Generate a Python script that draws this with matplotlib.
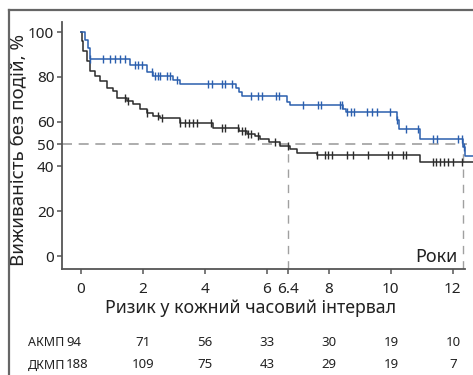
import numpy as np
import matplotlib
matplotlib.use("Agg")
import matplotlib.pyplot as plt
from matplotlib.lines import Line2D

plt.rcParams['font.family'] = ['Noto Sans', 'DejaVu Sans']

# survival curves (step after each time)
akmp_t = [0, 0.03, 0.13, 0.23, 0.29, 1.58, 2.13, 2.32, 2.97, 3.19, 5.0, 5.1, 5.2,
          6.65, 6.74, 8.45, 8.55, 10.19, 10.26, 10.94, 12.32, 12.39, 12.65]
akmp_s = [100, 100, 96.4, 92.9, 88.2, 85.3, 82, 80.4, 78.6, 76.8, 75, 73.3, 71.4,
          68.8, 67.4, 65.8, 64.3, 60.7, 56.7, 52.2, 48.7, 44.6, 44.6]
dkmp_t = [0, 0.02, 0.06, 0.19, 0.29, 0.45, 0.61, 0.84, 1.03, 1.16, 1.48, 1.68, 1.9,
          2.13, 2.32, 2.55, 3.19, 4.26, 5.1, 5.35, 5.6, 5.77, 6.06, 6.42, 6.74,
          6.97, 7.6, 10.94, 12.65]
dkmp_s = [100, 96, 91.6, 87.1, 82.7, 80.4, 78.2, 75.1, 73.8, 70.7, 69.3, 68, 65.8,
          64, 62.7, 61.8, 59.6, 57.3, 56, 54.7, 53.5, 52.4, 50.7, 49.3, 48,
          46.2, 44.9, 41.8, 41.8]

# censored observations
akmp_cens = [0.3, 0.71, 0.94, 1.1, 1.26, 1.42, 1.74, 1.84, 1.97, 2.3, 2.4, 2.47, 2.55,
             2.77, 2.87, 3.1, 4.1, 4.23, 4.55, 4.65, 4.87, 5.5, 5.7, 5.84, 6.3, 6.4,
             7.16, 7.65, 7.74, 8.35, 8.42, 8.6, 8.7, 8.8, 9.23, 9.39, 9.55, 9.97,
             10.2, 10.5, 10.87, 11.35, 11.5, 12.16, 12.28, 12.36]
dkmp_cens = [1.42, 1.52, 2.13, 2.48, 2.6, 3.2, 3.35, 3.5, 3.6, 3.74, 4.2, 4.55, 4.65,
             5.06, 5.2, 5.3, 5.4, 5.5, 5.7, 6.26, 6.68, 7.6, 7.87, 7.97, 8.1, 8.58,
             8.77, 9.26, 9.9, 10.03, 10.4, 10.5, 11.35, 11.47, 11.6, 11.72, 11.85,
             12.0, 12.3]

median_dkmp = 6.68   # where the dashed line is drawn
median_akmp = 12.32
median_label = '6.4'

x_ticks = [0, 2, 4, 6, 8, 10, 12]
y_ticks = [0, 20, 40, 50, 60, 80, 100]

risk_times = [0, 2, 4, 6, 8, 10, 12]
risk_akmp = [94, 71, 56, 33, 30, 19, 10]
risk_dkmp = [188, 109, 75, 43, 29, 19, 7]

blue = '#2b5fae'
black = '#2b2b2b'
grey = '#a0a0a0'
txt = '#222222'


def level_at(times, vals, x):
    i = np.searchsorted(times, x, side='right') - 1
    return np.array(vals)[i]


fig = plt.figure(figsize=(4.73, 3.75), dpi=100)
ax = fig.add_axes([62/473, 1-269/375, 1-62/473, 247/375])
ax.set_xlim(-0.613, 12.65)
ax.set_ylim(-5.8, 104.5)

# reference dashed lines
ax.hlines(50, -0.613, 12.45, color=grey, lw=1.2, ls=(0, (6, 4)), zorder=1)
ax.vlines([median_dkmp, median_akmp], -5.8, 50, color=grey, lw=1.0, ls=(0, (6, 5)), zorder=1)

ax.step(dkmp_t, dkmp_s, where='post', color=black, lw=1.1, zorder=3)
ax.step(akmp_t, akmp_s, where='post', color=blue, lw=1.1, zorder=3)
ax.plot(dkmp_cens, level_at(dkmp_t, dkmp_s, dkmp_cens), ls='none', marker='|',
        ms=6, mew=1.0, color=black, zorder=4)
ax.plot(akmp_cens, level_at(akmp_t, akmp_s, akmp_cens), ls='none', marker='|',
        ms=6, mew=1.0, color=blue, zorder=4)

for s in ['top', 'right']:
    ax.spines[s].set_visible(False)
for s in ['left', 'bottom']:
    ax.spines[s].set_color('#555555')
    ax.spines[s].set_linewidth(1.3)
ax.spines['bottom'].set_bounds(-0.613, 12.4)

xt = sorted(x_ticks + [median_dkmp])
ax.set_xticks(xt)
ax.set_xticklabels([median_label if v == median_dkmp else str(v) for v in xt])
ax.set_yticks(y_ticks)
ax.tick_params(axis='both', colors='#555555', labelcolor=txt, labelsize=11,
               length=3.5, width=1.1)
ax.tick_params(axis='x', pad=6)
ax.tick_params(axis='y', pad=2)

ax.set_ylabel('Виживаність без подій, %', fontsize=13.5, color=txt)
ax.yaxis.set_label_coords(-0.082, 0.482)
ax.set_xlabel('Ризик у кожний часовий інтервал', fontsize=12.8, color=txt, va='center')
ax.xaxis.set_label_coords(0.458, -0.158)

ax.text(11.48, -0.4, 'Роки', ha='center', va='center', fontsize=13, color=txt)

# risk table
for lab, vals, yf in [('АКМП', risk_akmp, 1-343/375), ('ДКМП', risk_dkmp, 1-365/375)]:
    fig.text(28/473, yf, lab, ha='left', va='center', fontsize=9, color=txt)
    for k, (t, v) in enumerate(zip(risk_times, vals)):
        if k == 0:
            fig.text(66/473, yf, str(v), ha='left', va='center', fontsize=9.5, color=txt)
            continue
        xf = fig.transFigure.inverted().transform(ax.transData.transform((t, 0)))[0]
        fig.text(xf, yf, str(v), ha='center', va='center', fontsize=9.5, color=txt)

# frame of the original picture
fig.add_artist(Line2D([9/473, 9/473], [0, 1-10/375], color='#666666', lw=1.6))
fig.add_artist(Line2D([9/473, 1], [1-10/375, 1-10/375], color='#666666', lw=1.6))

fig.savefig('out.png', dpi=100)
